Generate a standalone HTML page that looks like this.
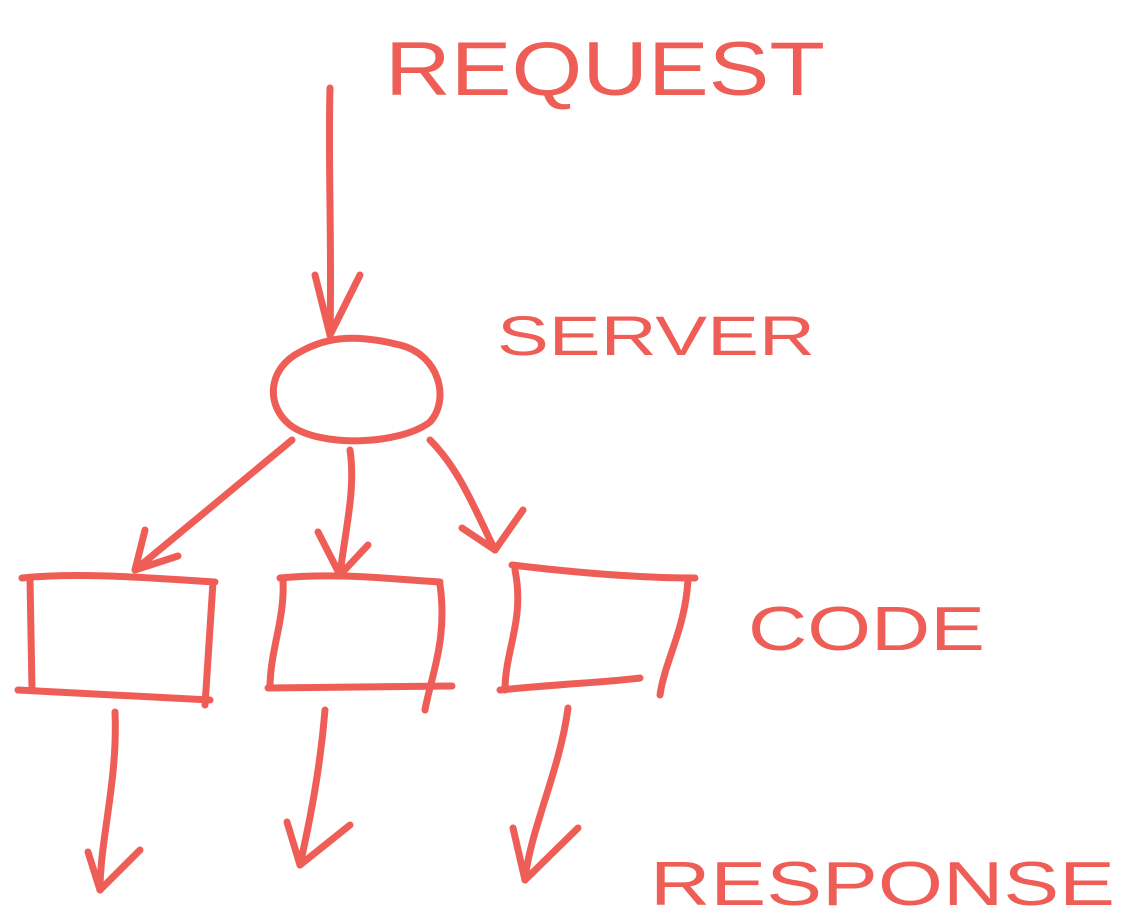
<!DOCTYPE html>
<html><head><meta charset="utf-8"><style>
html,body{margin:0;padding:0;background:#fff;}
svg{display:block}
text{font-family:"Liberation Sans",sans-serif;fill:#ef5d57;}
</style></head><body>
<svg width="1137" height="924" viewBox="0 0 1137 924" xmlns="http://www.w3.org/2000/svg">
<g fill="none" stroke="#ef5d57" stroke-width="7" stroke-linecap="round" stroke-linejoin="round">
<path d="M330 88 C328 160 332 250 330 335"/>
<path d="M315 275 L330 335 L360 275"/>
<path d="M300 352 C330 335 360 335 400 345 C440 355 450 400 430 422 C400 445 320 448 290 425 C265 405 268 368 300 352 Z"/>
<path d="M292 440 L135 570"/>
<path d="M145 530 L135 570 L178 556"/>
<path d="M350 450 C356 490 345 530 340 575"/>
<path d="M318 532 L340 575 L368 545"/>
<path d="M430 440 C460 470 475 510 495 550"/>
<path d="M462 528 L495 550 L523 510"/>
<path d="M22 578 C80 572 150 578 215 582"/>
<path d="M30 578 L32 690"/>
<path d="M213 582 L205 705"/>
<path d="M18 690 L210 700"/>
<path d="M280 578 C340 572 400 580 440 582"/>
<path d="M283 580 C285 620 270 650 270 688"/>
<path d="M440 585 C448 640 430 680 425 710"/>
<path d="M268 688 L452 686"/>
<path d="M512 565 C570 572 640 578 695 578"/>
<path d="M515 570 C525 620 505 650 505 690"/>
<path d="M688 580 C685 630 665 660 660 695"/>
<path d="M500 690 C560 684 610 682 640 678"/>
<path d="M115 712 C118 780 100 840 100 890"/>
<path d="M88 852 L100 890 L140 850"/>
<path d="M325 710 C320 770 310 820 300 865"/>
<path d="M287 822 L300 865 L350 825"/>
<path d="M568 708 C560 770 530 830 525 880"/>
<path d="M513 828 L525 880 L578 828"/>
</g>
<text x="385" y="95" font-size="76" textLength="440" lengthAdjust="spacingAndGlyphs">REQUEST</text>
<text x="497" y="355" font-size="56" textLength="318" lengthAdjust="spacingAndGlyphs">SERVER</text>
<text x="748" y="650" font-size="62" textLength="237" lengthAdjust="spacingAndGlyphs">CODE</text>
<text x="650" y="905" font-size="62" textLength="465" lengthAdjust="spacingAndGlyphs">RESPONSE</text>
</svg>
</body></html>
